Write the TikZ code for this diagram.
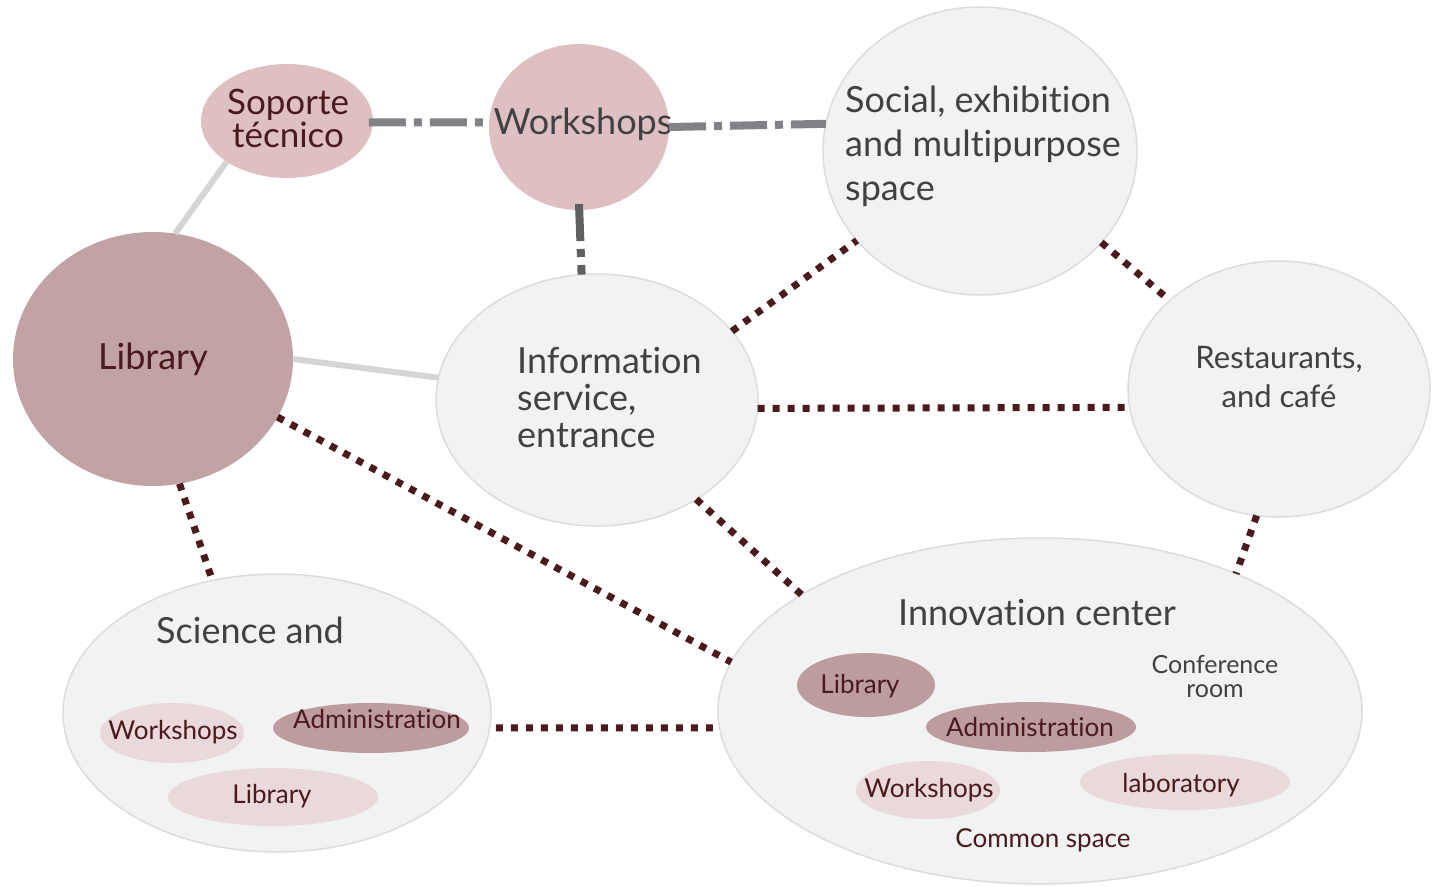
\documentclass[tikz,border=0pt]{standalone}
\usepackage{fontspec}
\setmainfont{Lato}[Ligatures=CommonOff]
\usetikzlibrary{shapes.geometric}
\definecolor{lgfill}{HTML}{F1F2F2}
\definecolor{lgdraw}{HTML}{DCDCDC}
\definecolor{pinkA}{HTML}{DFC0C2}
\definecolor{libC}{HTML}{C2A3A5}
\definecolor{innerD}{HTML}{BC9C9E}
\definecolor{innerL}{HTML}{EAD9DA}
\definecolor{dotC}{HTML}{4A1A1C}
\definecolor{ddC}{HTML}{808285}
\definecolor{ddV}{HTML}{606062}
\definecolor{solC}{HTML}{D4D5D6}
\definecolor{txG}{HTML}{414042}
\definecolor{txR}{HTML}{4A1A1C}
\tikzset{
  ell/.style 2 args={ellipse, inner sep=0pt, outer sep=0pt, minimum width=#1pt, minimum height=#2pt},
  grayell/.style={fill=lgfill, draw=lgdraw, line width=1.5pt},
  pinkell/.style={fill=pinkA},
  libell/.style={fill=libC},
  dkell/.style={fill=innerD},
  ltell/.style={fill=innerL},
  bigtx/.style={text=txG, font=\fontsize{36}{44}\selectfont, inner sep=0pt},
  redtx/.style={text=txR, inner sep=0pt},
  smtx/.style={font=\fontsize{26}{26}\selectfont},
  dotline/.style={draw=dotC, line width=7pt, dash pattern=on 7pt off 8pt},
  ddline/.style={draw=ddC, line width=8pt, dash pattern=on 37pt off 8pt on 8pt off 8pt},
  solline/.style={draw=solC, line width=6pt},
}
\begin{document}
\begin{tikzpicture}[x=1pt,y=-1pt]
\useasboundingbox (0,0) rectangle (1434,886);
% ellipses
\node[ell={172}{114}, pinkell] (sop) at (287,121) {};
\node[ell={180}{166}, pinkell] (ws) at (579,127) {};
\node[ell={314}{288}, grayell] (soc) at (980,151) {};
\node[ell={280}{254}, libell] (lib) at (153,359) {};
\node[ell={322}{252}, grayell] (info) at (597,400) {};
\node[ell={302}{256}, grayell] (rest) at (1279,389) {};
\node[ell={428}{278}, grayell] (sci) at (277,713) {};
\node[ell={644}{346}, grayell] (innov) at (1040,711) {};
% inner ellipses
\node[ell={144}{60}, ltell] (sws) at (172,733) {};
\node[ell={196}{50}, dkell] (sadm) at (371,728) {};
\node[ell={210}{58}, ltell] (slib) at (273,797) {};
\node[ell={138}{64}, dkell] (ilib) at (866,685) {};
\node[ell={210}{50}, dkell] (iadm) at (1031,727) {};
\node[ell={144}{58}, ltell] (iws) at (928,790) {};
\node[ell={210}{56}, ltell] (ilab) at (1185,782) {};
% texts
\node[redtx, font=\fontsize{35}{31}\selectfont, align=center, anchor=base] (sopT) at (288,147) {Soporte\\técnico};
\node[bigtx, anchor=base] (wsT) at (583,134) {Workshops};
\node[bigtx, align=left, anchor=base west] (socT) at (845,200) {Social, exhibition\\and multipurpose\\space};
\node[redtx, font=\fontsize{36}{44}\selectfont, anchor=base] (libT) at (153,369) {Library};
\node[bigtx, font=\fontsize{36}{37}\selectfont, align=left, anchor=base west] (infoT) at (517,447) {Information\\service,\\entrance};
\node[bigtx, font=\fontsize{31}{39}\selectfont, align=center, anchor=base] (restT) at (1279,407) {Restaurants,\\and café};
\node[bigtx, anchor=base] (sciT) at (250,643) {Science and};
\node[bigtx, anchor=base] (innovT) at (1037,625) {Innovation center};
\node[redtx, smtx, anchor=base] (swsT) at (173,739) {Workshops};
\node[redtx, smtx, anchor=base] (sadmT) at (377,728) {Administration};
\node[redtx, smtx, anchor=base] (slibT) at (272,803) {Library};
\node[redtx, smtx, anchor=base] (ilibT) at (860,693) {Library};
\node[redtx, smtx, anchor=base] (iadmT) at (1030,736) {Administration};
\node[redtx, smtx, anchor=base] (iwsT) at (929,797) {Workshops};
\node[redtx, smtx, anchor=base] (ilabT) at (1181,792) {laboratory};
\node[redtx, smtx, anchor=base] (icomT) at (1043,847) {Common space};
\node[text=txG, inner sep=0pt, font=\fontsize{25}{24}\selectfont, align=center, anchor=base] (iconfT) at (1215,697) {Conference\\room};
% connectors
\draw[solline] (sop.214) -- (lib.80);
\draw[solline] (lib.0) -- (info.172.5);
\draw[ddline] ([xshift=-4pt]sop.-1) -- (ws.177);
\draw[ddline] (ws.0) -- (soc.170.7);
\draw[ddline, draw=ddV] ([yshift=6pt]ws.270) -- (info.97.7);
\draw[dotline] (info.27.2) -- (soc.216.6);
\draw[dotline] (soc.-37.5) -- (rest.141.9);
\draw[dotline] (info.-3.6) -- (rest.187.9);
\draw[dotline] (lib.-25.6) -- (innov.171.4);
\draw[dotline] (lib.-78.9) -- (sci.116.2);
\draw[dotline] (info.-45.6) -- (innov.154.6);
\draw[dotline] (rest.-100.5) -- (innov.35.6);
\draw[dotline] ([xshift=6pt]sci.-4) -- (innov.183.2);
\end{tikzpicture}
\end{document}
